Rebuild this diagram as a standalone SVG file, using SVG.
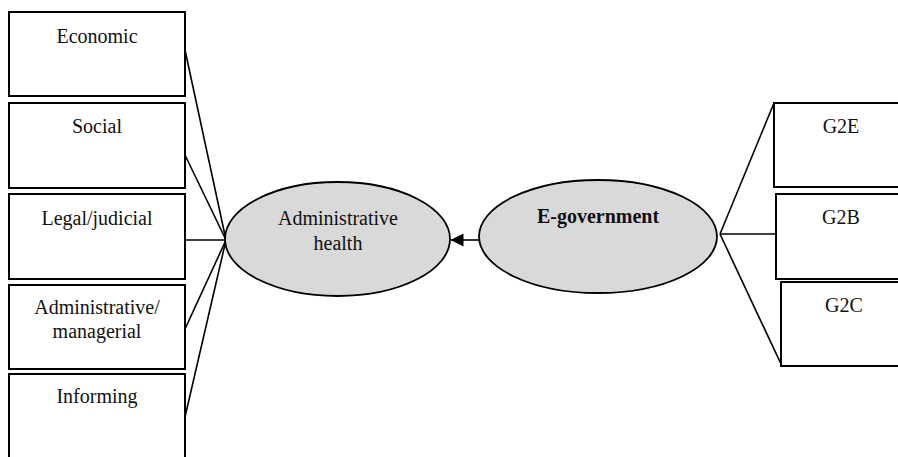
<svg xmlns="http://www.w3.org/2000/svg" width="898" height="457" viewBox="0 0 898 457">
<style>
.box{fill:#fff;stroke:#000;stroke-width:2}
.ell{fill:#d9d9d9;stroke:#000;stroke-width:1.8}
.ln{stroke:#000;stroke-width:1.6;fill:none}
text{font-family:"Liberation Serif","Times New Roman",serif;font-size:20px;fill:#111;text-anchor:middle}
.b{font-weight:bold}
</style>
<defs>
<marker id="arr" markerWidth="13" markerHeight="13" refX="12.5" refY="6.5" orient="auto" markerUnits="userSpaceOnUse">
<path d="M0,0 L13,6.5 L0,13 Z" fill="#000"/>
</marker>
</defs>
<rect width="898" height="457" fill="#fff"/>
<g id="connectors">
<path class="ln" d="M185,50 L226,240"/>
<path class="ln" d="M185,155 L226,240"/>
<path class="ln" d="M185,240 L226,240"/>
<path class="ln" d="M185,329 L226,240"/>
<path class="ln" d="M185,417 L226,240"/>
<path class="ln" d="M720,234 L774,103"/>
<path class="ln" d="M720,234 L776,234"/>
<path class="ln" d="M720,234 L781,364"/>
<path class="ln" d="M479,240 L451,240" marker-end="url(#arr)"/>
</g>
<g id="economic"><rect class="box" x="9" y="12" width="176" height="84"/><text x="97" y="43">Economic</text></g>
<g id="social"><rect class="box" x="9" y="103" width="176" height="85"/><text x="97" y="133">Social</text></g>
<g id="legal"><rect class="box" x="9" y="194" width="176" height="85"/><text x="97" y="225">Legal/judicial</text></g>
<g id="administrative"><rect class="box" x="9" y="285" width="176" height="84"/><text x="97" y="314">Administrative/</text><text x="97" y="338">managerial</text></g>
<g id="informing"><rect class="box" x="9" y="374" width="176" height="100"/><text x="97" y="403">Informing</text></g>
<g id="admin-health"><ellipse class="ell" cx="337.5" cy="239" rx="112.5" ry="57"/><text x="338" y="225">Administrative</text><text x="338" y="250">health</text></g>
<g id="e-government"><ellipse class="ell" cx="598" cy="236.5" rx="119" ry="56.5"/><text class="b" x="598" y="223">E-government</text></g>
<g id="g2e"><rect class="box" x="774" y="103" width="140" height="84"/><text x="841" y="133">G2E</text></g>
<g id="g2b"><rect class="box" x="776" y="194" width="140" height="85"/><text x="841" y="224">G2B</text></g>
<g id="g2c"><rect class="box" x="781" y="282" width="140" height="84"/><text x="844" y="312">G2C</text></g>
</svg>
